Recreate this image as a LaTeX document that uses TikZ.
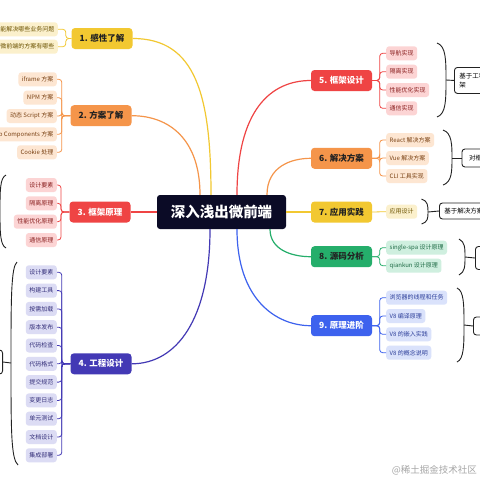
\documentclass[tikz,border=0pt]{standalone}
\usepackage{fontspec}
\newfontfamily\cjk{Noto Sans CJK SC}
\definecolor{cY}{HTML}{F2C831}
\definecolor{cO}{HTML}{F5954A}
\definecolor{cR}{HTML}{EF4444}
\definecolor{cI}{HTML}{4339B5}
\definecolor{cG}{HTML}{25AE6B}
\definecolor{cB}{HTML}{3D62EE}
\definecolor{cC}{HTML}{0B0B26}
\definecolor{lY}{HTML}{FBF0CC}
\definecolor{lO}{HTML}{FDE6D2}
\definecolor{lR}{HTML}{FCD4D4}
\definecolor{lI}{HTML}{DCDCF4}
\definecolor{lG}{HTML}{CFEFDF}
\definecolor{lB}{HTML}{DAE2FB}
\definecolor{tY}{HTML}{6B5200}
\definecolor{tO}{HTML}{7A4214}
\definecolor{tR}{HTML}{8A2020}
\definecolor{tI}{HTML}{35307A}
\definecolor{tG}{HTML}{1E6B45}
\definecolor{tB}{HTML}{2D3F9A}
\definecolor{dk}{HTML}{222222}
\tikzset{
  branch/.style={rounded corners=3.5pt, minimum width=61pt, minimum height=21pt, inner sep=0pt,
    font=\cjk\bfseries\fontsize{8.5}{10}\selectfont},
  leaf/.style={rounded corners=3pt, minimum height=14pt, inner xsep=3.5pt, inner ysep=0pt,
    font=\cjk\fontsize{6}{7}\selectfont},
  main/.style={line width=1.2pt},
  cl/.style={line width=0.8pt, rounded corners=3pt},
  brk/.style={draw=dk, line width=0.9pt},
  sumbox/.style={draw=dk, fill=white, line width=0.9pt, rounded corners=3pt, inner xsep=5pt,
    align=left, font=\cjk\fontsize{6.5}{9}\selectfont}
}
\begin{document}
\begin{tikzpicture}[x=1pt,y=-1pt]
\useasboundingbox (0,0) rectangle (480,480);
\clip (0,0) rectangle (480,480);
\fill[white] (0,0) rectangle (480,480);

% central and branches
\node[fill=cC, text=white, rounded corners=3pt, minimum width=129pt, minimum height=34pt, inner sep=0pt,
  font=\cjk\bfseries\fontsize{14.5}{16}\selectfont] (c) at (221.5,212) {深入浅出微前端};

\node[branch, fill=cY, text=dk] (b1) at (102,38.5) {1. 感性了解};
\node[branch, fill=cO, text=dk] (b2) at (101,115.7) {2. 方案了解};
\node[branch, fill=cR, text=white] (b3) at (100,212) {3. 框架原理};
\node[branch, fill=cI, text=white] (b4) at (101,363.8) {4. 工程设计};
\node[branch, fill=cR, text=white] (b5) at (341.5,80.5) {5. 框架设计};
\node[branch, fill=cO, text=dk] (b6) at (341.5,158.3) {6. 解决方案};
\node[branch, fill=cY, text=dk] (b7) at (341.5,212) {7. 应用实践};
\node[branch, fill=cG, text=dk] (b8) at (341.5,256.7) {8. 源码分析};
\node[branch, fill=cB, text=white] (b9) at (341.5,325.7) {9. 原理进阶};

% main connectors
\draw[main, cY] ([xshift=-10.5pt]c.north) .. controls +(0,-100) and +(63,0) .. (b1.east);
\draw[main, cO] ([xshift=-21.5pt]c.north) .. controls +(0,-55) and +(38,0) .. (b2.east);
\draw[main, cR] (c.west) -- (b3.east);
\draw[main, cI] ([xshift=-11.5pt]c.south) .. controls +(0,90) and +(45,0) .. (b4.east);
\draw[main, cR] ([xshift=15.5pt]c.north) .. controls +(0,-85) and +(-40,0) .. (b5.west);
\draw[main, cO] ([xshift=45.5pt]c.north) .. controls +(0,-28) and +(-20,0) .. (b6.west);
\draw[main, cY] (c.east) -- (b7.west);
\draw[main, cG] ([xshift=48.5pt]c.south) .. controls +(0,20) and +(-20,0) .. (b8.west);
\draw[main, cB] ([xshift=15.5pt]c.south) .. controls +(0,70) and +(-35,0) .. (b9.west);

% branch 1 leaves
\node[leaf, fill=lY, text=tY, anchor=east] (y1) at (58,29.3) {微前端能解决哪些业务问题};
\node[leaf, fill=lY, text=tY, anchor=east] (y2) at (58,46.7) {微前端的方案有哪些};
\foreach \i in {1,2} \draw[cl, cY] (b1.west) -- ++(-5.5,0) |- (y\i.east);

% branch 2 leaves
\node[leaf, fill=lO, text=tO, anchor=east] (o1) at (57,79.3) {iframe 方案};
\node[leaf, fill=lO, text=tO, anchor=east] (o2) at (57,97.7) {NPM 方案};
\node[leaf, fill=lO, text=tO, anchor=east] (o3) at (57,116) {动态 Script 方案};
\node[leaf, fill=lO, text=tO, anchor=east] (o4) at (57,134.3) {Web Components 方案};
\node[leaf, fill=lO, text=tO, anchor=east] (o5) at (57,152.3) {Cookie 处理};
\foreach \i in {1,...,5} \draw[cl, cO] (b2.west) -- ++(-8.5,0) |- (o\i.east);

% branch 3 leaves
\node[leaf, fill=lR, text=tR, anchor=east] (r1) at (57,185) {设计要素};
\node[leaf, fill=lR, text=tR, anchor=east] (r2) at (57,203.3) {隔离原理};
\node[leaf, fill=lR, text=tR, anchor=east] (r3) at (57,221.7) {性能优化原理};
\node[leaf, fill=lR, text=tR, anchor=east] (r4) at (57,240) {通信原理};
\foreach \i in {1,...,4} \draw[cl, cR] (b3.west) -- ++(-8.3,0) |- (r\i.east);
\draw[brk] (6,175) .. controls (0,178) and (0,190) .. (0,211) .. controls (0,232) and (0,245) .. (6,248);

% branch 4 leaves
\foreach \i/\t in {0/设计要素,1/构建工具,2/按需加载,3/版本发布,4/代码检查,5/代码格式,6/提交规范,7/变更日志,8/单元测试,9/文档设计,10/集成部署}{
  \node[leaf, fill=lI, text=tI, anchor=east] (i\i) at (57,272.3+18.3*\i) {\t};
  \draw[cl, cI] (b4.west) -- ++(-8.5,0) |- (i\i.east);
}
\draw[brk] (17,262) .. controls (11,267) and (11,300) .. (11,363) .. controls (11,430) and (11,459) .. (18,465);
\node[sumbox, anchor=east, minimum width=60pt, minimum height=24pt] (s4) at (3,362) {};
\draw[brk] (11,363) -- (s4.east);

% branch 5 leaves
\node[leaf, fill=lR, text=tR, anchor=west] (f1) at (386,53.3) {导航实现};
\node[leaf, fill=lR, text=tR, anchor=west] (f2) at (386,71.7) {隔离实现};
\node[leaf, fill=lR, text=tR, anchor=west] (f3) at (386,90) {性能优化实现};
\node[leaf, fill=lR, text=tR, anchor=west] (f4) at (386,108.3) {通信实现};
\foreach \i in {1,...,4} \draw[cl, cR] (b5.east) -- ++(7.5,0) |- (f\i.west);
\draw[brk] (437,43) .. controls (446,46) and (446,60) .. (446,80) .. controls (446,100) and (446,114) .. (437,117);
\node[sumbox, anchor=north west, minimum width=60pt, minimum height=26pt] (s5) at (454,67) {基于工程设计的微前端框\\架};
\draw[brk] (446,80) -- (s5.west);

% branch 6 leaves
\node[leaf, fill=lO, text=tO, anchor=west] (v1) at (386,140) {React 解决方案};
\node[leaf, fill=lO, text=tO, anchor=west] (v2) at (386,158) {Vue 解决方案};
\node[leaf, fill=lO, text=tO, anchor=west] (v3) at (386,176) {CLI 工具实现};
\foreach \i in {1,...,3} \draw[cl, cO] (b6.east) -- ++(7.5,0) |- (v\i.west);
\draw[brk] (443,130) .. controls (452,133) and (452,145) .. (452,158) .. controls (452,171) and (452,182) .. (443,185);
\node[sumbox, anchor=west, minimum width=60pt, minimum height=18pt] (s6) at (461.5,158) {对框架进行封装};
\draw[brk] (452,158) -- (s6.west);

% branch 7 leaf
\node[leaf, fill=lY, text=tY, anchor=west] (p1) at (386,211.7) {应用设计};
\draw[cl, cY] (b7.east) -- (p1.west);
\draw[brk] (421.5,199) .. controls (428,201) and (428,206) .. (428,212) .. controls (428,218) and (428,222) .. (421.5,224);
\node[sumbox, anchor=west, minimum width=60pt, minimum height=16pt] (s7) at (439,211) {基于解决方案的应用实践};
\draw[brk] (428,212) -- (s7.west);

% branch 8 leaves
\node[leaf, fill=lG, text=tG, anchor=west] (g1) at (386,247.7) {single-spa 设计原理};
\node[leaf, fill=lG, text=tG, anchor=west] (g2) at (386,265.7) {qiankun 设计原理};
\foreach \i in {1,2} \draw[cl, cG] (b8.east) -- ++(7.5,0) |- (g\i.west);
\draw[brk] (459,239) .. controls (465,242) and (465,248) .. (465,257) .. controls (465,266) and (465,272) .. (459,275);
\node[sumbox, anchor=west, minimum width=60pt, minimum height=23pt] (s8) at (475,258) {};
\draw[brk] (465,257) -- (s8.west);

% branch 9 leaves
\node[leaf, fill=lB, text=tB, anchor=west] (e1) at (386,297.7) {浏览器的线程和任务};
\node[leaf, fill=lB, text=tB, anchor=west] (e2) at (386,316) {V8 编译原理};
\node[leaf, fill=lB, text=tB, anchor=west] (e3) at (386,334.3) {V8 的嵌入实践};
\node[leaf, fill=lB, text=tB, anchor=west] (e4) at (386,352.7) {V8 的概念说明};
\foreach \i in {1,...,4} \draw[cl, cB] (b9.east) -- ++(7.5,0) |- (e\i.west);
\draw[brk] (457,288) .. controls (464,291) and (464,305) .. (464,325) .. controls (464,345) and (464,359) .. (457,362);
\node[sumbox, anchor=west, minimum width=60pt, minimum height=18pt] (s9) at (473,326) {};
\draw[brk] (464,325) -- (s9.west);

% watermark
\node[font=\cjk\fontsize{9.5}{10}\selectfont, text=black!35, anchor=east, inner sep=0pt] (wm) at (477,470) {@稀土掘金技术社区};
\end{tikzpicture}
\end{document}
